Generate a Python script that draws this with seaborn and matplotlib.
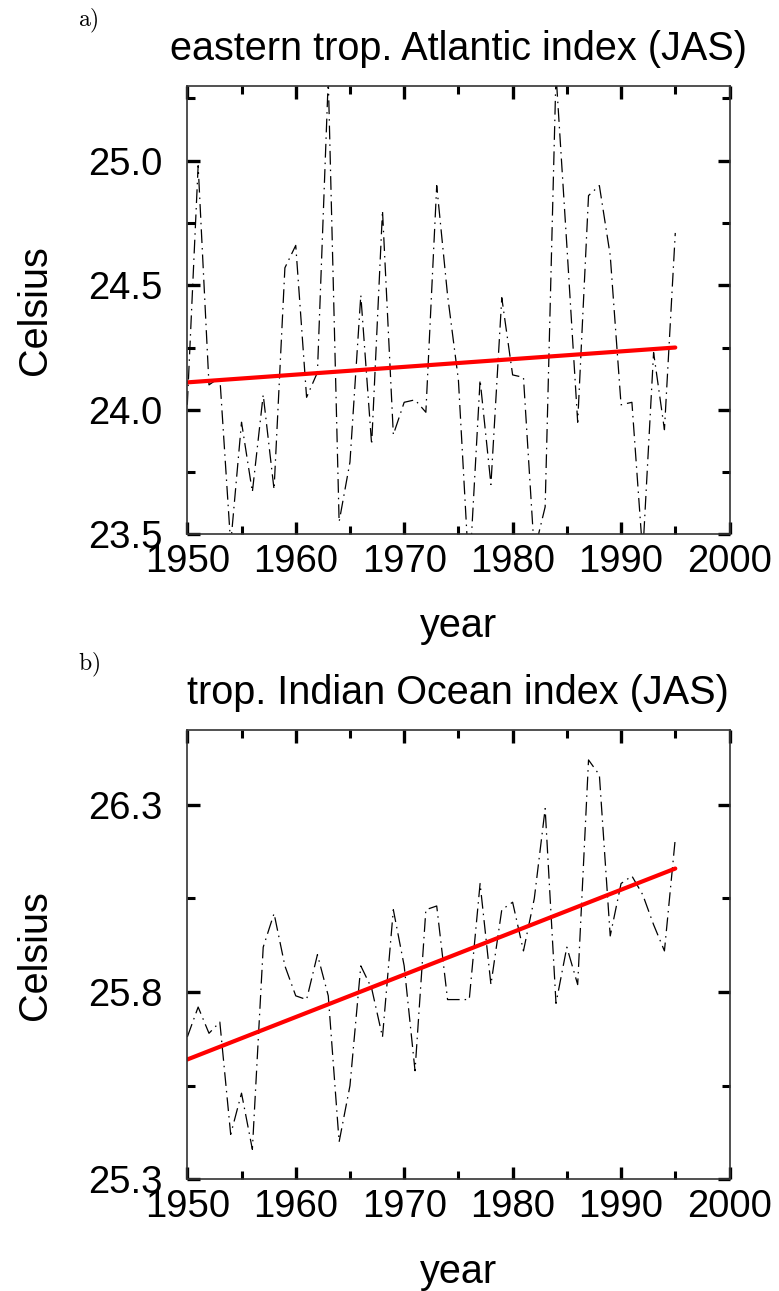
import numpy as np
import pandas as pd
import matplotlib
matplotlib.use("Agg")
import matplotlib.pyplot as plt
import seaborn as sns
from matplotlib.ticker import FixedLocator

# ---------------- data ----------------
years = list(range(1950, 1996))

atlantic = [24.02, 24.98, 24.10, 24.13, 23.46, 23.95, 23.67, 24.06, 23.68, 24.57,
            24.66, 24.05, 24.15, 25.33, 23.55, 23.79, 24.46, 23.86, 24.80, 23.90,
            24.03, 24.04, 23.99, 24.90, 24.46, 24.12, 23.33, 24.12, 23.70, 24.45,
            24.14, 24.13, 23.43, 23.61, 25.35, 24.66, 23.95, 24.86, 24.90, 24.62,
            24.02, 24.03, 23.42, 24.23, 23.92, 24.71]

indian = [25.68, 25.76, 25.69, 25.72, 25.42, 25.53, 25.38, 25.92, 26.01, 25.87,
          25.79, 25.78, 25.90, 25.79, 25.40, 25.55, 25.87, 25.81, 25.68, 26.02,
          25.87, 25.59, 26.02, 26.03, 25.78, 25.78, 25.78, 26.09, 25.82, 26.02,
          26.04, 25.91, 26.05, 26.29, 25.77, 25.92, 25.82, 26.42, 26.38, 25.95,
          26.09, 26.11, 26.06, 25.98, 25.91, 26.21]

trend_years = [1950, 1995]
trend_atlantic = [24.11, 24.25]
trend_indian = [25.62, 26.13]

titles = ["eastern trop. Atlantic index (JAS)", "trop. Indian Ocean index (JAS)"]
panel_tags = ["a)", "b)"]
x_major = [1950, 1960, 1970, 1980, 1990, 2000]
x_minor = [1955, 1965, 1975, 1985, 1995]
y_major_a = [23.5, 24.0, 24.5, 25.0]
y_minor_a = [23.75, 24.25, 24.75, 25.25]
y_major_b = [25.3, 25.8, 26.3]
y_minor_b = [25.55, 26.05]
ylim_a = (23.5, 25.3)
ylim_b = (25.3, 26.5)

# ---------------- style ----------------
sns.set_style("ticks")
plt.rcParams["font.family"] = ["Liberation Sans", "DejaVu Sans"]
plt.rcParams["mathtext.fontset"] = "cm"
plt.rcParams["text.color"] = "black"
plt.rcParams["axes.labelcolor"] = "black"
plt.rcParams["xtick.color"] = "black"
plt.rcParams["ytick.color"] = "black"

W, H = 779, 1291
fig = plt.figure(figsize=(W / 100, H / 100), dpi=100)

def px_axes(left, top, right, bottom):
    return fig.add_axes([left / W, 1 - bottom / H, (right - left) / W, (bottom - top) / H])

ax_a = px_axes(187.3, 86, 729.5, 534.3)
ax_b = px_axes(187.3, 730, 729.5, 1179.3)

panels = [
    (ax_a, atlantic, trend_atlantic, ylim_a, y_major_a, y_minor_a),
    (ax_b, indian, trend_indian, ylim_b, y_major_b, y_minor_b),
]

for i, (ax, vals, trend, ylim, ymaj, ymin) in enumerate(panels):
    df = pd.DataFrame({"year": years, "val": vals})
    sns.lineplot(data=df, x="year", y="val", ax=ax, color="black", lw=0.9,
                 linestyle=(0, (11, 4, 1.2, 4)))
    tdf = pd.DataFrame({"year": trend_years, "val": trend})
    sns.lineplot(data=tdf, x="year", y="val", ax=ax, color="#ff0000", lw=3.0)

    ax.set_xlim(1950, 2000)
    ax.set_ylim(*ylim)
    ax.xaxis.set_major_locator(FixedLocator(x_major))
    ax.xaxis.set_minor_locator(FixedLocator(x_minor))
    ax.yaxis.set_major_locator(FixedLocator(ymaj))
    ax.yaxis.set_minor_locator(FixedLocator(ymin))
    ax.set_yticklabels(["%.1f" % v for v in ymaj])
    ax.set_xticklabels([str(v) for v in x_major])

    ax.tick_params(which="both", direction="in", top=True, right=True,
                   labelsize=27.5, colors="black", labelcolor="black")
    ax.tick_params(axis="x", which="major", length=9, width=2.4, pad=7)
    ax.tick_params(axis="x", which="minor", length=5.5, width=2.2)
    ax.tick_params(axis="y", which="major", length=9, width=2.4, pad=18)
    ax.tick_params(axis="y", which="minor", length=5.5, width=2.2)

    for s in ax.spines.values():
        s.set_visible(True)
        s.set_color("#333333")
        s.set_linewidth(1.2)

    ax.set_xlabel("year", fontsize=28.5, color="black")
    ax.set_ylabel("Celsius", fontsize=28.5, color="black")
    ax.xaxis.set_label_coords(0.5, -0.163)
    ax.yaxis.set_label_coords(-0.245, 0.5)
    ax.set_title(titles[i], fontsize=28.5, pad=19, color="black")
    ax.grid(False)

fig.text(78 / W, 1 - 26 / H, r"$\mathrm{" + panel_tags[0] + "}$", fontsize=17,
         ha="left", va="baseline", color="black")
fig.text(78 / W, 1 - 670 / H, r"$\mathrm{" + panel_tags[1] + "}$", fontsize=17,
         ha="left", va="baseline", color="black")

fig.savefig("out.png", dpi=100, facecolor="white")
